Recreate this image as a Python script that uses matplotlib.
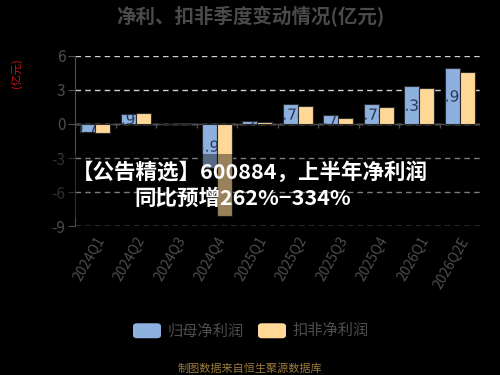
import matplotlib.pyplot as plt
import numpy as np
from matplotlib.patches import FancyBboxPatch, Rectangle, PathPatch
from matplotlib.textpath import TextPath
from matplotlib.font_manager import FontProperties
from matplotlib.transforms import Affine2D, ScaledTranslation

plt.rcParams['font.family'] = ['Noto Sans CJK SC', 'DejaVu Sans']

# 数据
quarters = ['2024Q1', '2024Q2', '2024Q3', '2024Q4', '2025Q1',
            '2025Q2', '2025Q3', '2025Q4', '2026Q1', '2026Q2E']
net_profit = [-0.72, 0.90, 0.03, -3.90, 0.26, 1.74, 0.76, 1.74, 3.32, 4.94]
deducted_profit = [-0.80, 0.95, 0.12, -8.10, 0.15, 1.55, 0.52, 1.48, 3.15, 4.58]
series_names = ['归母净利润', '扣非净利润']
yticks = [-9, -6, -3, 0, 3, 6]

blue = '#8eb0de'
yellow = '#ffd898'
grey = '#4d4d4d'

fig = plt.figure(figsize=(5, 3.75), dpi=100, facecolor='black')
ax = fig.add_axes([0.15, 0.397, 0.81, 0.454])
ax.set_facecolor('black')

x = np.arange(len(quarters))
w = 0.37
b1 = ax.bar(x - 0.19, net_profit, w, color=blue, edgecolor='#2b2b2b', linewidth=0.8, zorder=3)
b2 = ax.bar(x + 0.19, deducted_profit, w, color=yellow, edgecolor='#2b2b2b', linewidth=0.8, zorder=3)

# 数值标签（被柱子裁剪）
fp = FontProperties(family='DejaVu Sans')
for rect, v in zip(b1, net_profit):
    s = f'{v:.2f}'
    tp = TextPath((0, 0), s, size=11, prop=fp)
    ext = tp.get_extents()
    cx = rect.get_x() + rect.get_width() / 2
    tr = (Affine2D().translate(-(ext.x0 + ext.x1) / 2, -(ext.y0 + ext.y1) / 2).scale(1 / 72)
          + fig.dpi_scale_trans + ScaledTranslation(cx, v / 2, ax.transData))
    pp = PathPatch(tp, transform=tr, facecolor='#2a3a58', edgecolor='none', zorder=4)
    ax.add_artist(pp)
    pp.set_clip_path(rect)

ax.set_xlim(-0.5, len(quarters) - 0.5)
ax.set_ylim(-9, 6)
ax.set_yticks(yticks)
ax.set_yticklabels([str(v) for v in yticks], fontsize=11, color=grey)
ax.tick_params(axis='y', length=5, color=grey, pad=2)
ax.grid(axis='y', linestyle=(0, (4, 3)), color='#cfcfcf', linewidth=1, zorder=1)

ax.set_xticks(x)
ax.set_xticklabels(quarters, rotation=60, ha='right', rotation_mode='anchor',
                   fontsize=10, color=grey)
ax.tick_params(axis='x', length=0, pad=6)

for s in ['top', 'right', 'bottom']:
    ax.spines[s].set_visible(False)
ax.spines['left'].set_color(grey)

# 零轴和分隔刻度
ax.axhline(0, color=grey, linewidth=1, zorder=2)
ax.vlines(np.arange(len(quarters) + 1) - 0.5, -0.35, 0, color=grey, linewidth=1, zorder=2)

ax.set_ylabel('(亿元)', color='#d01010', fontsize=8)
ax.yaxis.set_label_coords(-0.13, 0.9)

fig.text(0.5, 0.958, '净利、扣非季度变动情况(亿元)', ha='center', va='center',
         fontsize=14, fontweight='bold', color='#4a4a4a')

# 图例
for i, (name, col) in enumerate(zip(series_names, [blue, yellow])):
    x0 = 0.266 + i * 0.25
    fig.patches.append(FancyBboxPatch((x0, 0.098), 0.056, 0.04,
                                      boxstyle='round,pad=0,rounding_size=0.008',
                                      transform=fig.transFigure, facecolor=col,
                                      edgecolor='none'))
    fig.text(x0 + 0.07, 0.118, name, ha='left', va='center', fontsize=11, color=grey)

fig.text(0.5, 0.018, '制图数据来自恒生聚源数据库', ha='center', va='center',
         fontsize=8, color='#9a7a3a')

# 遮罩和标题文字
fig.patches.append(Rectangle((0, 0.419), 1, 0.171, transform=fig.transFigure,
                             facecolor='black', alpha=0.4, edgecolor='none', zorder=5))
fig.text(0.5, 0.542, '【公告精选】600884，上半年净利润', ha='center', va='center',
         fontsize=15.5, fontweight='bold', color='white', zorder=6)
fig.text(0.485, 0.472, '同比预增262%−334%', ha='center', va='center',
         fontsize=15.5, fontweight='bold', color='white', zorder=6)

plt.savefig('out.png', dpi=100, facecolor='black')
